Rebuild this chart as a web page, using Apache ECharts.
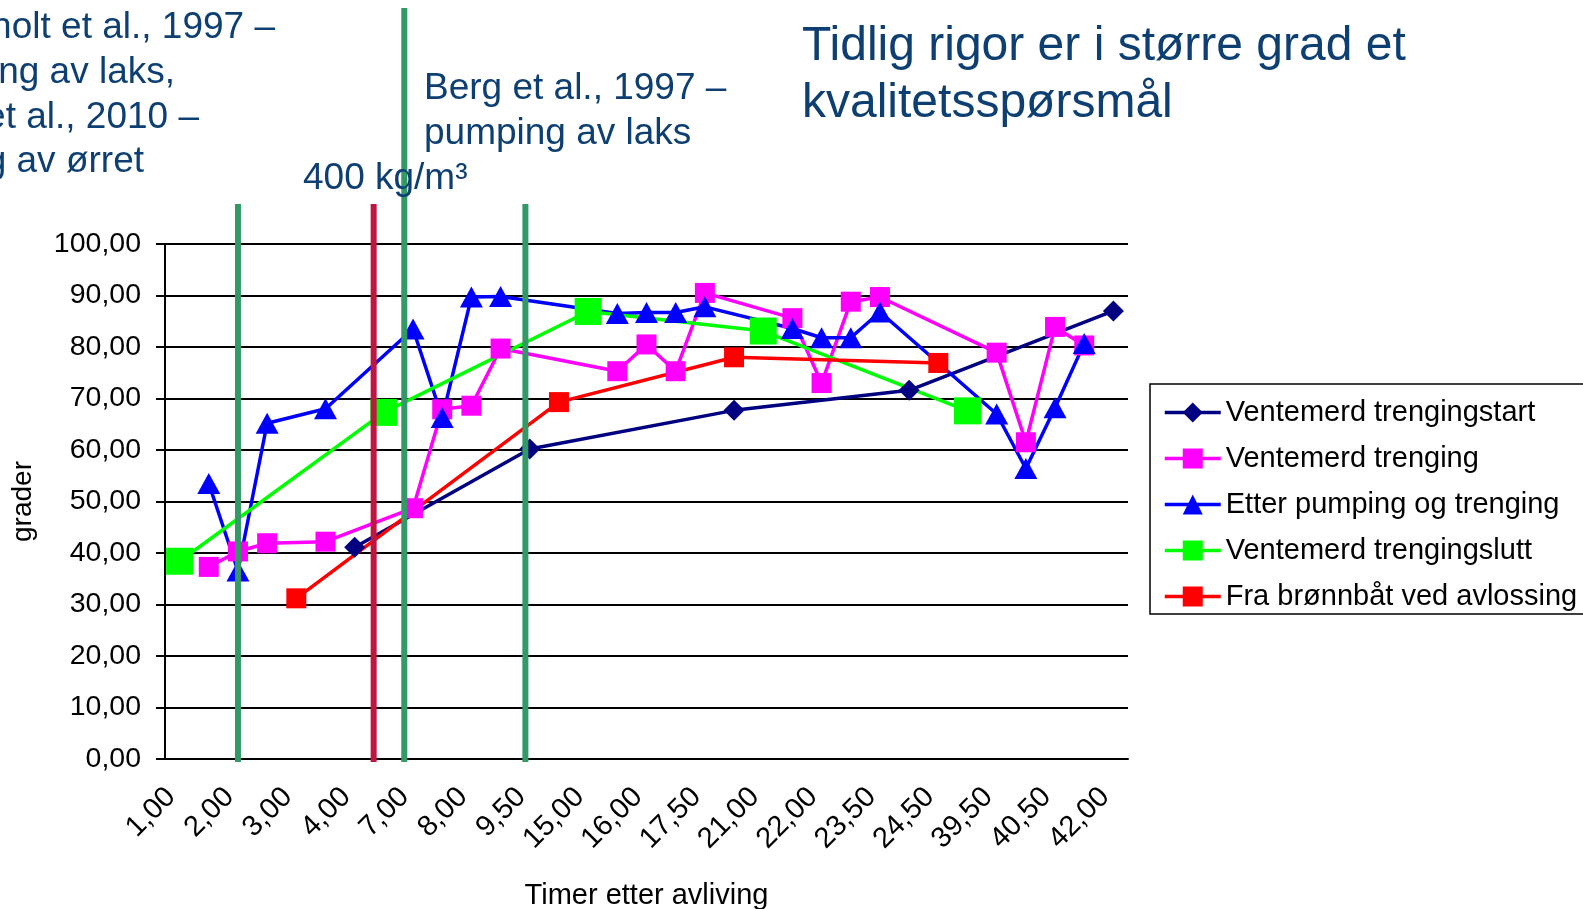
<!DOCTYPE html>
<html>
<head>
<meta charset="utf-8">
<script src="https://cdn.jsdelivr.net/npm/echarts@6/dist/echarts.min.js"></script>
<style>
* {
  margin: 0;
  padding: 0;
}
#chart-container {
  width: 1583px;
  height: 909px;
  overflow: hidden;
  background: #fff;
}
</style>
</head>
<body>
<div id="chart-container"></div>
<script>
// hours after slaughter; only every other category carries a visible label
const categories = [
  '1,00', '', '2,00', '', '3,00', '', '4,00', '', '7,00', '', '8,00', '',
  '9,50', '', '15,00', '', '16,00', '', '17,50', '', '21,00', '', '22,00', '',
  '23,50', '', '24,50', '', '39,50', '', '40,50', '', '42,00'
]

const trengingstart = [
  null, null, null, null, null, null, 41.1, null, null, null, null, null,
  60.2, null, null, null, null, null, null, 67.7, null, null, null, null,
  null, 71.6, null, null, null, null, null, null, 87.0
]
const trenging = [
  null, 37.3, 40.3, 41.9, null, 42.2, null, null, 48.7, 67.9, 68.6, 79.7,
  null, null, null, 75.3, 80.5, 75.3, 90.5, null, null, 85.6, 73.0, 88.8,
  89.7, null, null, null, 78.9, 61.5, 83.9, 80.3, null
]
const etterPumping = [
  null, 53.5, 36.5, 65.2, null, 68.0, null, null, 83.5, 66.3, 89.7, 89.8,
  null, null, null, 86.5, 86.7, 86.7, 87.8, null, null, 83.6, 81.8, 81.8,
  86.8, null, null, null, 67.0, 56.4, 68.2, 80.7, null
]
const trengingslutt = [
  38.4, null, null, null, null, null, null, 67.3, null, null, null, null,
  null, null, 86.9, null, null, null, null, null, 83.1, null, null, null,
  null, null, null, 67.6, null, null, null, null, null
]
const bronnbat = [
  null, null, null, null, 31.2, null, null, null, null, null, null, null,
  null, 69.3, null, null, null, null, null, 78.0, null, null, null, null,
  null, null, 76.9, null, null, null, null, null, null
]

const seriesNames = [
  'Ventemerd trengingstart',
  'Ventemerd trenging',
  'Etter pumping og trenging',
  'Ventemerd trengingslutt',
  'Fra brønnbåt ved avlossing'
]

// vertical reference lines, position in category units
const refLines = [
  { at: 2, top: 204, color: '#339966' },
  { at: 6.65, top: 204, color: '#BE1640' },
  { at: 7.7, top: 8, color: '#339966' },
  { at: 11.85, top: 204, color: '#339966' }
]

const FONT = '"Liberation Sans", Arial, sans-serif'
const TEXT_BLUE = '#0E3F72'

const gridLeft = 165
const gridRight = 455
const gridTop = 244
const gridBottom = 150
const W = 1583
const H = 909
const catW = (W - gridLeft - gridRight) / categories.length
const catX = (i) => gridLeft + (i + 0.5) * catW

const chartDom = document.getElementById('chart-container')
const myChart = echarts.init(chartDom, null, { renderer: 'canvas' })

const lineSeries = (name, data, color, symbol, size) => ({
  name: name,
  type: 'line',
  data: data,
  connectNulls: true,
  symbol: symbol,
  symbolSize: size,
  showAllSymbol: true,
  lineStyle: { color: color, width: 3.5 },
  itemStyle: { color: color },
  emphasis: { disabled: true },
  animation: false
})

const textEl = (text, x, y, size, align) => ({
  type: 'text',
  z: 110,
  style: {
    text: text,
    x: x,
    y: y,
    fill: TEXT_BLUE,
    font: size + 'px ' + FONT,
    textAlign: align || 'left',
    textVerticalAlign: 'middle'
  }
})

const graphics = []
refLines.forEach((l) => {
  graphics.push({
    type: 'line',
    z: 100,
    shape: { x1: catX(l.at), y1: l.top, x2: catX(l.at), y2: H - gridBottom + 3 },
    style: { stroke: l.color, lineWidth: 6 }
  })
})
// cut-off annotation at the left edge of the slide
graphics.push(textEl('holt et al., 1997 –', 275, 28, 37, 'right'))
graphics.push(textEl('ng av laks,', 175, 73, 37, 'right'))
graphics.push(textEl('et al., 2010 –', 199, 118, 37, 'right'))
graphics.push(textEl('g av ørret', 144, 162, 37, 'right'))
graphics.push(textEl('Berg et al., 1997 –', 424, 89, 37))
graphics.push(textEl('pumping av laks', 424, 134, 37))
graphics.push(textEl('400 kg/m³', 303, 179, 37))
graphics.push(textEl('Tidlig rigor er i større grad et', 802, 47, 48))
graphics.push(textEl('kvalitetsspørsmål', 802, 104, 48))

const option = {
  animation: false,
  backgroundColor: '#fff',
  textStyle: { fontFamily: FONT },
  grid: {
    left: gridLeft,
    right: gridRight,
    top: gridTop,
    bottom: gridBottom,
    outerBoundsMode: 'none'
  },
  legend: {
    orient: 'vertical',
    left: 1150,
    top: 384,
    padding: [14, 10, 3, 13],
    itemWidth: 56,
    itemHeight: 25,
    itemGap: 17,
    borderColor: '#000',
    borderWidth: 1.5,
    backgroundColor: '#fff',
    selectedMode: false,
    data: seriesNames,
    lineStyle: { width: 3.5 },
    textStyle: { color: '#000', fontSize: 29, fontFamily: FONT }
  },
  xAxis: {
    type: 'category',
    data: categories,
    boundaryGap: true,
    name: 'Timer etter avliving',
    nameLocation: 'middle',
    nameGap: 122,
    nameTextStyle: { color: '#000', fontSize: 29, fontFamily: FONT },
    axisLine: { lineStyle: { color: '#000', width: 2 } },
    axisTick: { interval: 0, length: 10, lineStyle: { color: '#000', width: 2 } },
    axisLabel: {
      interval: 1,
      rotate: 45,
      margin: 25,
      padding: [0, 12, 0, 0],
      color: '#000',
      fontSize: 29,
      fontFamily: FONT
    },
    splitLine: { show: false }
  },
  yAxis: {
    type: 'value',
    min: 0,
    max: 100,
    interval: 10,
    name: 'grader',
    nameLocation: 'middle',
    nameGap: 128,
    nameTextStyle: { color: '#000', fontSize: 28, fontFamily: FONT },
    axisLine: { show: true, lineStyle: { color: '#000', width: 2 } },
    axisTick: { show: true, length: 9, lineStyle: { color: '#000', width: 2 } },
    axisLabel: {
      margin: 24,
      color: '#000',
      fontSize: 28.5,
      fontFamily: FONT,
      formatter: (v) => v.toFixed(2).replace('.', ',')
    },
    splitLine: { show: true, lineStyle: { color: '#000', width: 2 } }
  },
  series: [
    lineSeries(seriesNames[0], trengingstart, '#000080', 'diamond', 21),
    lineSeries(seriesNames[1], trenging, '#FF00FF', 'rect', 20),
    lineSeries(seriesNames[2], etterPumping, '#0000FF', 'triangle', [23, 21]),
    lineSeries(seriesNames[3], trengingslutt, '#00FF00', 'rect', 27),
    lineSeries(seriesNames[4], bronnbat, '#FF0000', 'rect', 20)
  ],
  graphic: graphics
}

myChart.setOption(option, true)
</script>
</body>
</html>
